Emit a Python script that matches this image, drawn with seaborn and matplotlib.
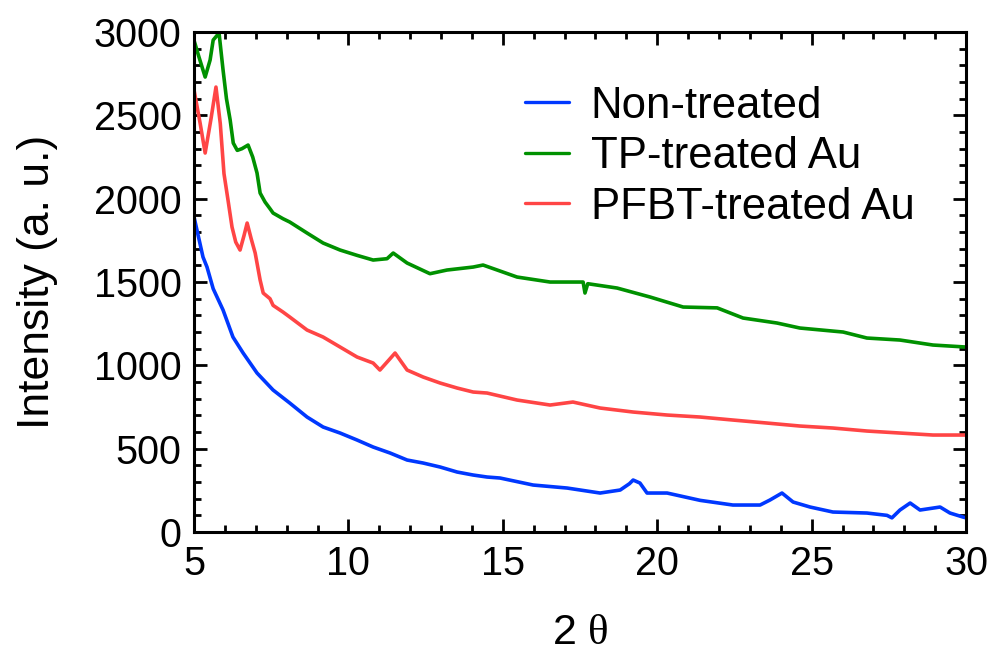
import numpy as np
import pandas as pd
import matplotlib
matplotlib.use("Agg")
import matplotlib.pyplot as plt
from matplotlib.ticker import MultipleLocator
import seaborn as sns

# ---- data ----
non_x = [5.0, 5.29, 5.42, 5.62, 5.94, 6.26, 6.59, 7.04, 7.56, 8.1, 8.66, 9.18, 9.73,
         10.28, 10.8, 11.35, 11.9, 12.42, 12.97, 13.52, 14.04, 14.49, 14.91, 15.98,
         17.08, 18.15, 18.8, 19.1, 19.22, 19.44, 19.67, 20.32, 21.39, 22.45, 23.33,
         23.65, 24.04, 24.4, 24.95, 25.69, 26.79, 27.44, 27.6, 27.86, 28.19, 28.51,
         29.16, 29.48, 29.9, 30.0]
non_y = [1890, 1650, 1590, 1460, 1332, 1170, 1074, 954, 852, 774, 690, 630, 594,
         552, 510, 474, 432, 414, 390, 360, 342, 330, 324, 282,
         264, 234, 252, 290, 312, 294, 234, 234, 190, 162, 162,
         192, 234, 180, 150, 120, 114, 100, 85, 132, 174, 132,
         150, 114, 90, 85]

tp_x = [5.0, 5.16, 5.36, 5.52, 5.62, 5.81, 5.88, 5.94, 6.05, 6.17, 6.27, 6.4, 6.55,
        6.75, 6.9, 7.04, 7.14, 7.3, 7.46, 7.56, 7.88, 8.1, 8.66, 9.18, 9.73, 10.28,
        10.8, 11.25, 11.45, 11.9, 12.64, 13.19, 14.04, 14.36, 15.46, 16.53, 17.6,
        17.66, 17.75, 18.7, 19.77, 20.84, 21.94, 22.78, 23.88, 24.62, 26.02, 26.79,
        27.86, 28.93, 30.0]
tp_y = [2950, 2850, 2730, 2832, 2952, 2994, 2874, 2772, 2600, 2472, 2334, 2290, 2300,
        2322, 2250, 2154, 2034, 1980, 1940, 1914, 1880, 1860, 1794, 1734, 1692, 1660,
        1632, 1640, 1674, 1614, 1550, 1572, 1590, 1602, 1530, 1500, 1500,
        1434, 1490, 1464, 1410, 1350, 1345, 1284, 1254, 1224, 1200, 1164,
        1152, 1122, 1110]

pf_x = [5.0, 5.2, 5.36, 5.55, 5.71, 5.85, 5.97, 6.1, 6.23, 6.35, 6.49, 6.62, 6.72,
        6.85, 6.98, 7.14, 7.24, 7.46, 7.56, 7.88, 8.1, 8.66, 9.18, 9.73, 10.28, 10.8,
        11.02, 11.3, 11.51, 11.9, 12.42, 12.97, 13.52, 14.04, 14.49, 15.46, 16.53,
        17.27, 18.15, 19.22, 20.32, 21.39, 22.45, 23.55, 24.62, 25.69, 26.79, 27.86,
        28.93, 30.0]
pf_y = [2652, 2450, 2274, 2480, 2670, 2450, 2150, 1992, 1830, 1740, 1692, 1780, 1854,
        1760, 1674, 1512, 1434, 1400, 1360, 1320, 1290, 1212, 1170, 1110, 1050, 1014,
        972, 1030, 1074, 972, 930, 894, 864, 840, 834, 792, 762,
        780, 744, 720, 702, 690, 672, 654, 636, 624, 606, 594,
        582, 582]

labels = ["Non-treated", "TP-treated Au", "PFBT-treated Au"]
colors = ["#0038ff", "#009100", "#ff4545"]

frames = []
for lab, xs, ys in zip(labels, [non_x, tp_x, pf_x], [non_y, tp_y, pf_y]):
    frames.append(pd.DataFrame({"x": xs, "y": ys, "series": lab}))
df = pd.concat(frames, ignore_index=True)

sns.set_style("ticks")
plt.rcParams["font.family"] = ["Liberation Sans", "DejaVu Sans"]
plt.rcParams["text.color"] = "black"
plt.rcParams["axes.labelcolor"] = "black"
plt.rcParams["xtick.color"] = "black"
plt.rcParams["ytick.color"] = "black"
plt.rcParams["mathtext.fontset"] = "custom"
plt.rcParams["mathtext.rm"] = "Liberation Serif"
plt.rcParams["mathtext.it"] = "Liberation Serif"

fig = plt.figure(figsize=(9.91, 6.54), dpi=100)
ax = fig.add_axes([0.1958, 0.1865, 0.7790, 0.7645])

sns.lineplot(data=df, x="x", y="y", hue="series", hue_order=labels,
             palette=dict(zip(labels, colors)), sort=False, estimator=None,
             linewidth=2.6, ax=ax)

ax.set_xlim(5, 30)
ax.set_ylim(0, 3000)
ax.xaxis.set_major_locator(MultipleLocator(5))
ax.xaxis.set_minor_locator(MultipleLocator(1))
ax.yaxis.set_major_locator(MultipleLocator(500))
ax.yaxis.set_minor_locator(MultipleLocator(100))

for sp in ax.spines.values():
    sp.set_linewidth(2.2)
    sp.set_color("black")

ax.tick_params(which="both", direction="in", top=True, right=True,
               width=2.0, colors="black", labelcolor="black")
ax.tick_params(which="major", length=9.5, labelsize=28.5, pad=9)
ax.tick_params(which="minor", length=5)

ax.set_xlabel(r"2 $\theta$", fontsize=31, labelpad=22, color="black")
ax.set_ylabel("Intensity (a. u.)", fontsize=32, labelpad=26, color="black")

leg = ax.legend(loc="upper left", bbox_to_anchor=(0.429, 0.893), frameon=False,
                fontsize=31.5, handlelength=1.0, handletextpad=0.5,
                labelspacing=0.22, borderpad=0, borderaxespad=0)
for line in leg.get_lines():
    line.set_linewidth(2.4)
for t in leg.get_texts():
    t.set_color("black")

fig.savefig("out.png", dpi=100)
